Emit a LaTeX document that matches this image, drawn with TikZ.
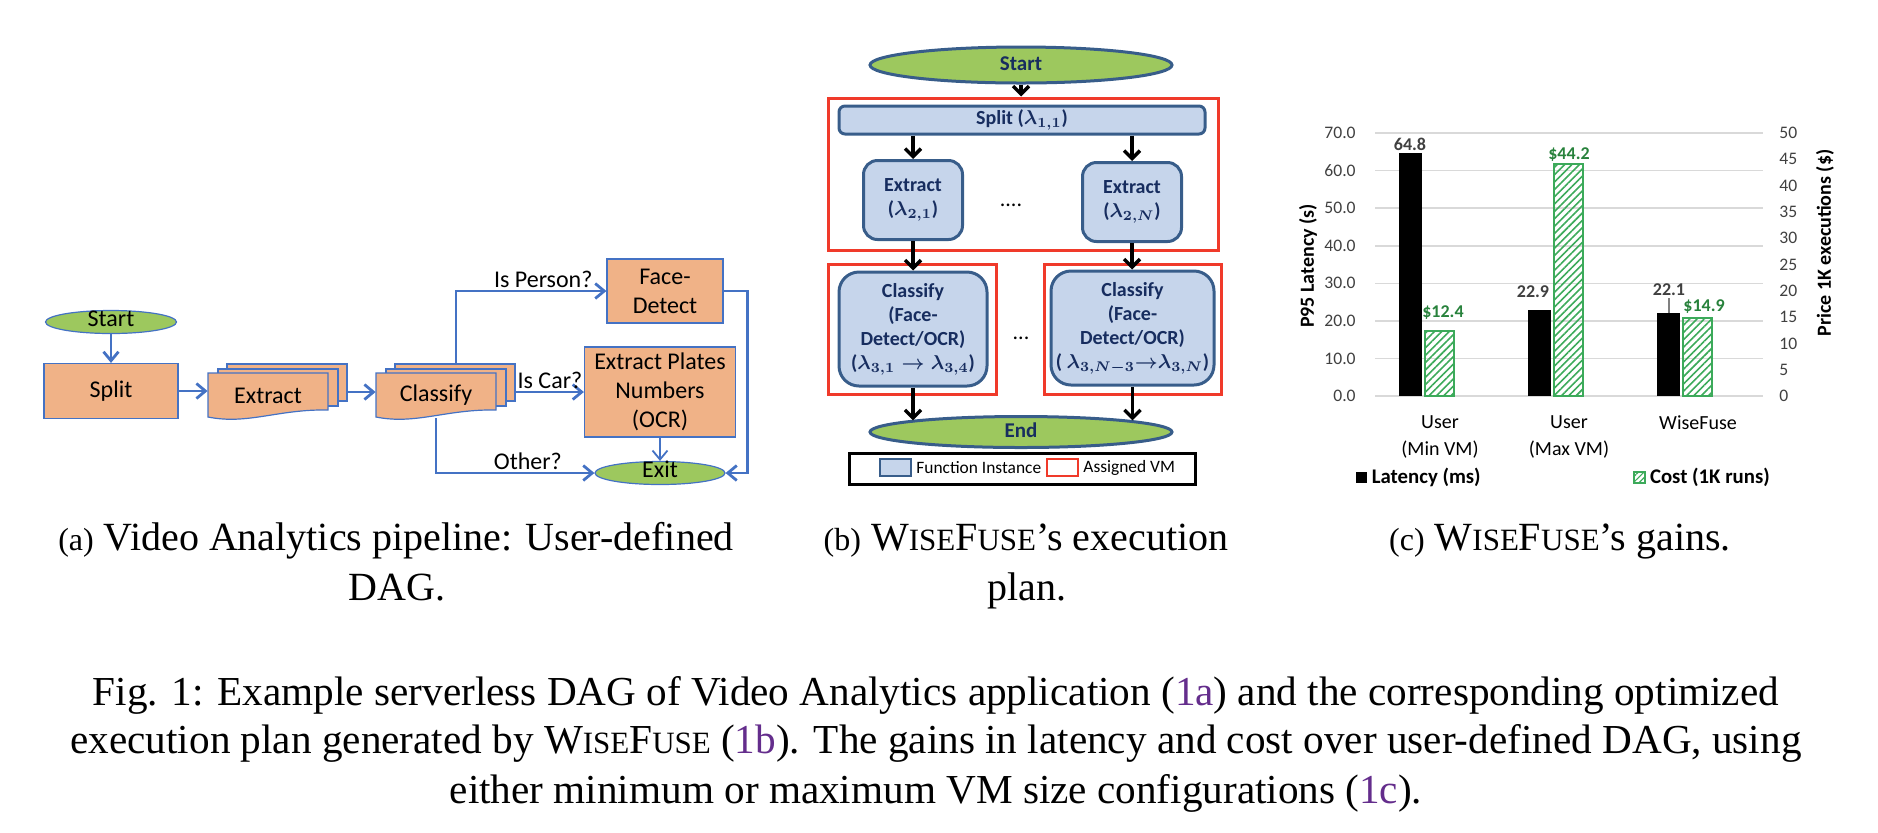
\documentclass[tikz,border=0pt]{standalone}
\usepackage{fontspec}
\setmainfont{Liberation Serif}
\newfontfamily\calibri{Carlito}
\usetikzlibrary{arrows.meta,positioning,shapes.geometric,patterns.meta}

\definecolor{peach}{RGB}{240,178,135}
\definecolor{flowblue}{RGB}{68,114,196}
\definecolor{leafgreen}{RGB}{157,200,94}
\definecolor{paleblue}{RGB}{198,213,235}
\definecolor{steelblue}{RGB}{56,93,138}
\definecolor{navytext}{RGB}{23,45,95}
\definecolor{vmred}{RGB}{240,58,42}
\definecolor{costgreen}{RGB}{60,170,90}
\definecolor{costlabel}{RGB}{40,130,60}
\definecolor{gridgray}{RGB}{217,217,217}
\definecolor{ticktext}{RGB}{64,64,64}
\definecolor{refpurple}{RGB}{100,45,140}

\newcommand{\pipefont}{\calibri\fontsize{12}{14.5}\selectfont}
\newcommand{\wfsc}[1]{{\fontsize{15.5}{0}\selectfont #1}}
\newcommand{\wisefuse}{W\wfsc{ISE}F\wfsc{USE}}
\newcommand{\sublabel}[1]{{\fontsize{16}{0}\selectfont(#1)}}
\newcommand{\lam}[1]{{\boldmath$#1$}}

% stacked pages: name, left x, top y, text
\newcommand{\docstack}[4]{%
  \foreach \dx/\dy in {19/-9,10/-4}
    \draw[draw=flowblue, line width=0.6pt, fill=peach]
      ({#2+\dx},{#3+\dy}) rectangle ({#2+\dx+120},{#3+\dy+37});
  \draw[draw=flowblue, line width=0.6pt, fill=peach] (#2,#3) -- ({#2+120},#3) -- ({#2+120},{#3+37})
    .. controls ({#2+70},{#3+36}) and ({#2+40},{#3+52}) .. (#2,{#3+44}) -- cycle;
  \node[inner sep=0pt, minimum width=60pt, minimum height=22.5pt, font=\pipefont] (#1) at ({#2+60},{#3+22.5}) {#4};
}

\begin{document}
\begin{tikzpicture}[x=0.5pt,y=-0.5pt,
    pipebox/.style={draw=flowblue, line width=0.6pt, fill=peach, align=center, inner sep=0pt, font=\pipefont},
    term/.style={ellipse, draw=flowblue, line width=0.6pt, fill=leafgreen, inner sep=0pt,
                 text height=6pt, text depth=1.5pt, font=\pipefont},
    flow/.style={draw=flowblue, line width=1.4pt, -{Straight Barb[length=4.5pt,width=7.5pt]}},
    edgelabel/.style={above, inner sep=1pt, font=\pipefont},
    fnbox/.style={draw=steelblue, line width=1.5pt, fill=paleblue, align=center, inner sep=0pt,
                  text=navytext, font=\calibri\bfseries\fontsize{10}{12}\selectfont},
    planterm/.style={ellipse, draw=steelblue, line width=1.5pt, fill=leafgreen, inner sep=0pt,
                     text height=6pt, text depth=1pt, text=navytext, font=\calibri\bfseries\fontsize{10.5}{12}\selectfont},
    vmbox/.style={draw=vmred, line width=1.5pt, inner sep=0pt},
    plan/.style={draw=black, line width=1.7pt, -{Straight Barb[length=4pt,width=8pt]}},
    tick/.style={font=\calibri\fontsize{8.8}{10}\selectfont, text=ticktext, inner sep=1pt},
    value/.style={font=\calibri\bfseries\fontsize{9}{10}\selectfont, inner sep=1pt},
    caption/.style={font=\fontsize{20}{25}\selectfont, inner sep=0pt},
    figcaption/.style={font=\fontsize{20.6}{25}\selectfont, inner sep=0pt}]
\useasboundingbox (0,0) rectangle (1878,832);

% (a) user-defined DAG
\node[term, minimum width=65.5pt, minimum height=11.5pt] (startA) at (111,322) {Start};
\node[pipebox, minimum width=67pt, minimum height=27.5pt] (split) at (111,391) {Split};
\docstack{extract}{208}{373}{Extract}
\docstack{classify}{376}{373}{Classify}
\node[pipebox, minimum width=58pt, minimum height=32pt] (face) at (665,291) {Face-\\Detect};
\node[pipebox, minimum width=75.5pt, minimum height=45pt] (plates) at (660,392) {Extract Plates\\Numbers\\(OCR)};
\node[term, minimum width=65pt, minimum height=11.5pt] (exit) at (660,473) {Exit};
\coordinate (extBack) at (347,392);
\coordinate (clsBack) at (516,392);
\coordinate (clsTop) at (456,364);

\draw[flow] (startA) -- (split);
\draw[flow] (split.east) -- (split.east -| extract.west);
\draw[flow] (extBack) -- (extBack -| classify.west);
\draw[flow] (clsTop) |- node[pos=0.79, edgelabel] {Is Person?} (face.west);
\draw[flow] (clsBack) -- node[edgelabel] {Is Car?} (clsBack -| plates.west);
\draw[flow] (classify.south) |- node[pos=0.79, edgelabel] {Other?} (exit.west);
\draw[flow] (face.east) -- ++(24,0) |- (exit.east);
\draw[flow, line width=0.9pt] (plates) -- (exit);

% (b) execution plan
\node[vmbox, minimum width=195pt, minimum height=76pt] (vmTop) at (1023,174) {};
\node[vmbox, minimum width=84pt, minimum height=65pt] (vmL) at (912,329) {};
\node[vmbox, minimum width=88.5pt, minimum height=65pt] (vmR) at (1132.5,329) {};
\node[planterm, minimum width=151pt, minimum height=18pt] (startB) at (1021,65) {Start};
\node[fnbox, rounded corners=3pt, minimum width=183pt, minimum height=14pt] (splitB) at (1022,120)
  {Split (\lam{\lambda_{1,1}})};
\node[fnbox, rounded corners=7pt, minimum width=49.5pt, minimum height=39.5pt] (extL) at (913,200)
  {Extract\\(\lam{\lambda_{2,1}})};
\node[fnbox, rounded corners=7pt, minimum width=49.5pt, minimum height=39.5pt] (extR) at (1132,202)
  {Extract\\(\lam{\lambda_{2,N}})};
\node[fnbox, rounded corners=10pt, minimum width=74pt, minimum height=57pt] (clsL) at (913,329)
  {Classify\\(Face-\\Detect/OCR)\\(\lam{\lambda_{3,1}\rightarrow\lambda_{3,4}})};
\node[fnbox, rounded corners=10pt, minimum width=81.5pt, minimum height=57pt] (clsR) at (1132.5,328)
  {Classify\\(Face-\\Detect/OCR)\\( \lam{\lambda_{3,N-3}{\rightarrow}\lambda_{3,N}})};
\node[planterm, minimum width=151pt, minimum height=15.5pt] (endB) at (1021,432) {End};
\node[font=\calibri\fontsize{11}{12}\selectfont, inner sep=0pt] (dotsTop) at (1011,205) {....};
\node[font=\calibri\fontsize{11}{12}\selectfont, inner sep=0pt] (dotsLow) at (1021,338) {...};

\draw[plan] (startB.south) -- (startB.south |- vmTop.north);
\draw[plan] (splitB.south -| extL) -- (extL.north);
\draw[plan] (splitB.south -| extR) -- (extR.north);
\draw[plan] (extL.south) -- (extL.south |- clsL.north);
\draw[plan] (extR.south) -- (extR.south |- clsR.north);
\draw[plan] (clsL.south) -- (clsL.south |- endB.174);
\draw[plan] (clsR.south) -- (clsR.south |- endB.6);

\node[draw=black, line width=1.5pt, minimum width=173pt, minimum height=15.5pt] (legendB) at (1022,468.5) {};
\node[draw=steelblue, line width=1pt, fill=paleblue, minimum width=15.5pt, minimum height=8.5pt, inner sep=0pt]
  (swFn) at (895.5,467.5) {};
\node[right=2pt of swFn, inner sep=0pt, font=\calibri\fontsize{8.7}{10}\selectfont] (txtFn) {Function Instance};
\node[right=2pt of txtFn, draw=vmred, line width=1.2pt, fill=white, minimum width=15.5pt, minimum height=8.5pt, inner sep=0pt]
  (swVM) {};
\node[right=2pt of swVM, inner sep=0pt, font=\calibri\fontsize{8.7}{10}\selectfont] (txtVM) {Assigned VM};

% (c) gains chart
\foreach \v in {0,10,...,70} {
  \draw[gridgray, line width=0.8pt] (1375,{396-\v*3.757}) -- (1763,{396-\v*3.757});
  \node[tick, anchor=east] at (1358,{396-\v*3.757}) {\v.0};
}
\foreach \c in {0,5,...,50}
  \node[tick, anchor=west] at (1777,{396-\c*5.26}) {\c};
\foreach \c/\lat/\cost in {1440/64.8/12.4, 1569/22.9/44.2, 1698/22.1/14.9} {
  \fill[black] ({\c-41},396) rectangle ({\c-18},{396-\lat*3.757});
  \draw[costgreen, line width=1pt, pattern={Lines[angle=45,distance=2.6pt,line width=0.8pt]}, pattern color=costgreen]
    ({\c-15},396) rectangle ({\c+14},{396-\cost*5.26});
}
\node[value, text=ticktext] (latMin) at (1410,144) {64.8};
\node[value, text=costlabel] (costMin) at (1443,313) {\$12.4};
\node[value, text=ticktext] (latMax) at (1533,292) {22.9};
\node[value, text=costlabel] (costMax) at (1569,155) {\$44.2};
\node[value, text=ticktext] (latWf) at (1669,290) {22.1};
\node[value, text=costlabel] (costWf) at (1704,307) {\$14.9};
\coordinate (latWfTop) at (1669,313);
\draw[gray, line width=0.6pt] (latWf.south) -- (latWfTop);

\node[align=center, font=\calibri\fontsize{10}{13.5}\selectfont] (catMin) at (1440,436.5) {User\\(Min VM)};
\node[align=center, font=\calibri\fontsize{10}{13.5}\selectfont] (catMax) at (1569,436.5) {User\\(Max VM)};
\node[font=\calibri\fontsize{10}{13.5}\selectfont] (catWf) at (1698,423) {WiseFuse};
\node[rotate=90, font=\calibri\bfseries\fontsize{10}{12}\selectfont] (axLat) at (1308,266) {P95 Latency (s)};
\node[rotate=90, font=\calibri\bfseries\fontsize{10}{12}\selectfont] (axCost) at (1825,243) {Price 1K executions (\$)};

\node[fill=black, minimum size=5.5pt, inner sep=0pt] (swLat) at (1361.5,477.5) {};
\node[right=2pt of swLat, inner sep=0pt, font=\calibri\bfseries\fontsize{10.4}{12}\selectfont] (txtLat) {Latency (ms)};
\node[draw=costgreen, line width=0.6pt, pattern={Lines[angle=45,distance=2pt,line width=0.6pt]}, pattern color=costgreen,
  minimum size=5.5pt, inner sep=0pt] (swCost) at (1639.5,477.5) {};
\node[right=2pt of swCost, inner sep=0pt, font=\calibri\bfseries\fontsize{10.4}{12}\selectfont] (txtCost) {Cost (1K runs)};

% captions
\node[caption, anchor=base] (capA1) at (396,550) {\sublabel{a} Video Analytics pipeline: User-defined};
\node[caption, anchor=base] (capA2) at (397,600) {DAG.};
\node[caption, anchor=base] (capB1) at (1026,550) {\sublabel{b} \wisefuse’s execution};
\node[caption, anchor=base] (capB2) at (1027,600) {plan.};
\node[caption, anchor=base] (capC1) at (1560,550) {\sublabel{c} \wisefuse’s gains.};
\node[figcaption, anchor=base] (fig1) at (936,705)
  {Fig. 1: Example serverless DAG of Video Analytics application (\textcolor{refpurple}{1a}) and the corresponding optimized};
\node[figcaption, anchor=base] (fig2) at (936,753)
  {execution plan generated by \wisefuse{} (\textcolor{refpurple}{1b}). The gains in latency and cost over user-defined DAG, using};
\node[figcaption, anchor=base] (fig3) at (936,803)
  {either minimum or maximum VM size configurations (\textcolor{refpurple}{1c}).};
\end{tikzpicture}
\end{document}
